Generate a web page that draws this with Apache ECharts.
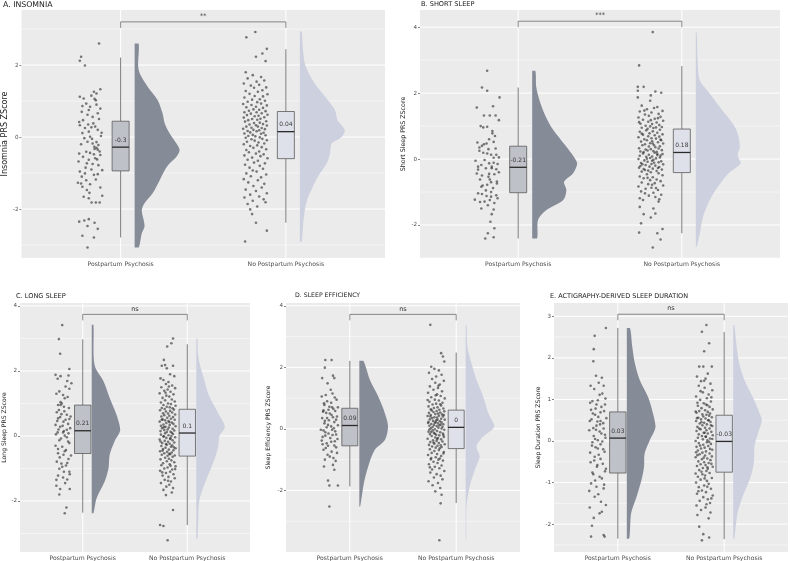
<!DOCTYPE html>
<html>
<head>
<meta charset="utf-8">
<script src="https://cdn.jsdelivr.net/npm/echarts@6/dist/echarts.min.js"></script>
<style>
html,body{margin:0;padding:0;background:#fff;}
#chart{width:790px;height:561px;}
</style>
</head>
<body>
<div id="chart"></div>
<script>
// categories / labels
var categories = ['Postpartum Psychosis', 'No Postpartum Psychosis'];
var panelTitles = ['A. INSOMNIA', 'B. SHORT SLEEP', 'C. LONG SLEEP', 'D. SLEEP EFFICIENCY', 'E. ACTIGRAPHY-DERIVED SLEEP DURATION'];
var yNames = ['Insomnia PRS ZScore', 'Short Sleep PRS ZScore', 'Long Sleep PRS ZScore', 'Sleep Efficiency PRS ZScore', 'Sleep Duration PRS ZScore'];
var yTicks = [[-2,0,2],[-2,0,2,4],[-2,0,2,4],[-2,0,2,4],[-2,-1,0,1,2,3]];
var yMinorTicks = [[-3,-1,1,3],[-3,-1,1,3],[-3,-1,1,3],[-3,-1,1,3],[-2.5,-1.5,-0.5,0.5,1.5,2.5]];
var yRanges = [[-3.36,3.53],[-3.0,4.52],[-3.57,4.09],[-4.0,4.09],[-2.67,3.32]];
var sigLabels = ['**', '***', 'ns', 'ns', 'ns'];
var sigHeight = [3.2, 4.18, 3.74, 3.72, 3.05];
var meanLabels = [[-0.3,0.04],[-0.21,0.18],[0.21,0.1],[0.09,0],[0.03,-0.03]];

// box stats: [lower whisker, q1, median, q3, upper whisker]
var boxStats = [
  [[-2.79,-0.94,-0.28,0.44,2.21],[-2.38,-0.6,0.15,0.71,2.44]],
  [[-2.41,-1.02,-0.25,0.39,2.17],[-2.25,-0.41,0.2,0.91,2.82]],
  [[-2.36,-0.54,0.16,0.95,2.97],[-2.74,-0.62,0.09,0.82,2.82]],
  [[-1.87,-0.55,0.11,0.67,2.21],[-2.41,-0.64,0.05,0.61,2.48]],
  [[-2.35,-0.77,0.07,0.7,2.72],[-2.36,-0.75,-0.01,0.62,2.62]]
];

// half violin density profiles: [value, relative density]
var violinA_pp = [[2.6,.09],[1.86,.09],[1.4,.29],[1.03,.51],[.66,.62],[.38,.67],[.1,.78],[-.18,.93],[-.36,1],[-.55,.93],[-.73,.78],[-.92,.67],[-1.19,.56],[-1.56,.4],[-1.84,.22],[-2.03,.16],[-2.3,.2],[-2.49,.22],[-2.67,.16],[-3.07,.09]];
var violinA_no = [[2.93,.04],[2.42,.07],[1.96,.13],[1.49,.33],[1.03,.62],[.75,.78],[.47,.84],[.19,1],[0,.93],[-.18,.71],[-.45,.67],[-.73,.6],[-1.1,.4],[-1.38,.29],[-1.75,.16],[-2.21,.09],[-2.91,.04]];
var violinB_pp = [[2.68,.07],[2.19,.09],[1.79,.16],[1.38,.27],[.98,.42],[.58,.64],[.27,.82],[-.13,1],[-.43,.91],[-.69,.71],[-.94,.76],[-1.24,.69],[-1.55,.31],[-1.85,.13],[-2.41,.11]];
var violinB_no = [[3.84,.02],[3.0,.04],[2.39,.09],[1.99,.31],[1.58,.53],[1.08,.82],[.78,.93],[.37,.98],[.12,.93],[-.13,1],[-.43,.73],[-.84,.49],[-1.24,.31],[-1.75,.16],[-2.25,.09],[-2.66,.02]];
var violinC_pp = [[3.42,.06],[2.18,.1],[1.67,.42],[1.17,.63],[.65,.87],[.18,1],[-.17,.8],[-.58,.63],[-.99,.59],[-1.41,.45],[-1.92,.17],[-2.38,.06]];
var violinC_no = [[3.0,.04],[2.44,.07],[1.72,.28],[1.21,.46],[.7,.77],[.29,1],[-.02,.81],[-.33,.77],[-.74,.63],[-1.35,.35],[-1.97,.11],[-2.58,.07],[-3.18,.04]];
var violinD_pp = [[2.21,.14],[1.59,.37],[1.05,.66],[.51,.89],[.08,1],[-.36,.89],[-.68,.54],[-1.22,.31],[-1.76,.16],[-2.52,.03]];
var violinD_no = [[3.38,.03],[2.67,.06],[2.13,.2],[1.59,.38],[1.05,.61],[.51,.79],[.08,1],[-.25,.61],[-.57,.38],[-.9,.49],[-1.33,.32],[-1.87,.14],[-2.52,.03],[-3.6,.02]];
var violinE_pp = [[2.72,.11],[2.27,.19],[1.87,.28],[1.47,.45],[1.06,.74],[.67,.91],[.34,1],[.02,.8],[-.3,.62],[-.62,.6],[-.94,.51],[-1.34,.34],[-1.74,.15],[-2.14,.11],[-2.35,.08]];
var violinE_no = [[2.79,.04],[2.27,.12],[1.87,.21],[1.47,.39],[1.06,.68],[.67,.92],[.5,1],[.18,.86],[-.14,.74],[-.54,.72],[-.94,.57],[-1.34,.33],[-1.74,.15],[-2.35,.04]];

// jittered points: [jitter (-1..1), z score]
var pointsA_pp = [[.7,2.6],[-.7,2.23],[-.8,2.12],[-.4,1.99],[.8,1.33],[.3,1.26],[.5,1.21],[-.8,1.12],[.1,1.15],[-.5,1.07],[.35,1.06],[.45,1.02],[-.3,.93],[-.6,.86],[0,.84],[.5,.9],[.8,.79],[-.1,.75],[-.65,.7],[.6,.66],[-.2,.62],[.2,.56],[.7,.5],[-.55,.47],[-.85,.42],[.25,.38],[-.15,.35],[-.8,.33],[.4,.29],[.1,.27],[-.4,.25],[.6,.2],[-.1,.15],[.9,.12],[-.6,.11],[.85,.03],[0,.01],[-.45,-.03],[.15,-.05],[-.2,-.13],[.5,-.14],[-.7,-.2],[.2,-.18],[.65,-.22],[.33,-.27],[.5,-.3],[.35,-.33],[.6,-.35],[.75,-.4],[-.3,-.41],[0,-.44],[-.85,-.46],[.3,-.48],[.8,-.5],[-.55,-.55],[.4,-.59],[.55,-.62],[-.1,-.63],[-.9,-.68],[-.25,-.73],[.2,-.75],[.65,-.78],[-.35,-.85],[.1,-.9],[.95,-.92],[-.8,-.96],[-.4,-1.01],[.6,-1.03],[.3,-1.05],[-.65,-1.1],[.45,-1.18],[-.3,-1.2],[-.95,-1.27],[-.7,-1.29],[0,-1.31],[-.6,-1.38],[.8,-1.4],[-.25,-1.47],[-.05,-1.55],[.95,-1.63],[-.5,-1.66],[-.1,-1.7],[.12,-1.82],[.45,-1.82],[.75,-1.82],[-.45,-2.32],[-.85,-2.35],[-.1,-2.28],[.35,-2.38],[-.2,-2.47],[.6,-2.55],[-.6,-2.74],[.3,-2.79],[-.2,-3.07]];
var pointsA_no = [[0,2.92],[-.7,2.77],[.9,2.45],[.55,2.32],[.05,2.23],[.8,2.11],[-.75,1.8],[-.2,1.72],[.45,1.67],[-.6,1.63],[.7,1.57],[.1,1.54],[-.9,1.49],[.3,1.45],[-.35,1.43],[.85,1.38],[-.1,1.37],[.55,1.3],[-.75,1.28],[.2,1.26],[-.45,1.2],[.95,1.19],[-.05,1.14],[.6,1.13],[-.85,1.1],[.35,1.05],[-.25,1.04],[.75,1.01],[-.6,.98],[.15,.97],[.45,.93],[-.95,.92],[-.3,.89],[.9,.88],[.05,.84],[-.7,.83],[.6,.81],[-.15,.77],[.3,.76],[-.5,.73],[.8,.72],[-.85,.69],[.1,.69],[.5,.66],[-.35,.65],[.95,.62],[-.65,.61],[.25,.59],[-.05,.58],[.7,.55],[-.9,.54],[.4,.51],[-.25,.5],[.15,.48],[-.55,.47],[.85,.44],[-.8,.43],[.35,.4],[-.1,.39],[.6,.36],[-.45,.35],[.05,.33],[.9,.32],[-.7,.29],[.2,.29],[-.3,.26],[.5,.25],[-.95,.23],[.75,.22],[-.15,.2],[.3,.19],[-.6,.17],[.1,.16],[-.4,.13],[.65,.12],[-.85,.1],[.45,.09],[-.2,.06],[.8,.05],[-.55,.03],[0,.02],[.35,-.01],[-.75,-.02],[.55,-.05],[-.3,-.06],[.9,-.09],[-.05,-.1],[-.65,-.13],[.25,-.15],[.7,-.18],[-.9,-.2],[.15,-.23],[-.4,-.25],[.5,-.28],[-.15,-.3],[.85,-.34],[-.7,-.36],[.3,-.4],[-.5,-.42],[.05,-.46],[.65,-.48],[-.85,-.51],[.4,-.53],[-.25,-.57],[.95,-.59],[-.6,-.63],[.2,-.66],[-.1,-.71],[.75,-.73],[-.8,-.77],[.35,-.8],[-.45,-.85],[.6,-.88],[-.2,-.93],[.1,-.96],[-.7,-1.01],[.85,-1.04],[-.35,-1.09],[.45,-1.12],[-.9,-1.17],[.2,-1.2],[-.55,-1.26],[.7,-1.3],[-.15,-1.36],[.5,-1.4],[-.75,-1.46],[.05,-1.5],[.9,-1.56],[-.4,-1.6],[.3,-1.65],[-.85,-1.68],[.65,-1.73],[-.2,-1.77],[.8,-1.81],[-.6,-1.86],[.15,-1.93],[-.4,-2.01],[-.25,-2.14],[.05,-2.38],[.9,-2.6],[-.8,-2.9]];
var pointsB_pp = [[0,2.68],[-.4,2.17],[0,2.07],[.95,1.87],[-.8,1.56],[.45,1.6],[-.25,1.32],[.2,1.32],[.65,1.32],[.9,1.18],[-.5,1],[-.3,.96],[0,.98],[.4,.85],[.4,.78],[.6,.7],[.15,.6],[-.75,.5],[.5,.52],[-.05,.47],[-.25,.45],[-.4,.4],[-.6,.35],[.65,.32],[.1,.3],[-.6,.25],[-.3,.19],[0,.17],[.3,.13],[.7,.13],[.9,.05],[.5,.04],[-.9,-.05],[-.2,-.03],[.15,-.13],[.5,-.11],[.8,-.15],[-.45,-.18],[-.7,-.23],[-.1,-.28],[.35,-.23],[.35,-.28],[.7,-.31],[-.7,-.32],[.9,-.4],[-.8,-.44],[.15,-.45],[-.4,-.5],[.1,-.54],[.55,-.46],[-.55,-.62],[.2,-.62],[.3,-.7],[.75,-.68],[.75,-.74],[0,-.78],[-.35,-.8],[-.45,-.84],[.45,-.88],[-.1,-.95],[.3,-1],[-.7,-1.04],[-.4,-1.06],[-.05,-1.12],[.3,-1.14],[.7,-1.1],[-.95,-1.23],[-.55,-1.3],[-.2,-1.29],[.2,-1.24],[.8,-1.19],[.55,-1.33],[.05,-1.4],[-.45,-1.5],[.5,-1.53],[.35,-1.67],[.25,-1.9],[.55,-2.1],[.05,-2.25],[-.15,-2.41],[.5,-2.37]];
var pointsB_no = [[.15,3.85],[-.9,2.84],[-1,2.19],[-.55,2.19],[-1,2.07],[-1,1.87],[.35,2.05],[.8,2.01],[0,1.93],[-.05,1.77],[.5,1.58],[-.7,1.62],[.25,1.55],[-.3,1.51],[.9,1.46],[-.85,1.44],[.05,1.41],[.6,1.37],[-.45,1.35],[-.15,1.31],[.75,1.28],[-.95,1.26],[.3,1.22],[-.6,1.19],[.95,1.16],[-.2,1.13],[.45,1.11],[-.8,1.07],[.1,1.06],[.65,1.03],[-.4,1.01],[-.05,.99],[.85,.97],[-.7,.95],[.2,.94],[-.25,.92],[.55,1.24],[-.5,1.47],[.4,.96],[-.9,1.12],[0,1.18],[.7,.89],[-.35,.87],[.15,.84],[-.85,.83],[.5,.8],[-.1,.78],[.9,.75],[-.6,.74],[.3,.72],[-.2,.69],[.65,.68],[-.95,.66],[.05,.63],[.4,.62],[-.5,.6],[.8,.57],[-.3,.57],[.1,.54],[-.75,.53],[.55,.51],[-.05,.48],[.95,.47],[-.45,.45],[.25,.42],[-.65,.42],[.7,.39],[-.15,.38],[.35,.36],[-.9,.33],[.6,.32],[0,.3],[-.4,.29],[.85,.27],[-.25,.26],[.2,.24],[-.8,.23],[.45,.22],[-.55,.21],[.75,.59],[-.7,.77],[.15,.47],[.3,.19],[-.6,.17],[.9,.15],[-.15,.13],[.5,.12],[-.85,.1],[.1,.08],[-.35,.07],[.7,.05],[-.05,.03],[.4,.02],[-.95,0],[.2,-.02],[-.5,-.04],[.8,-.07],[-.25,-.08],[.6,-.1],[-.75,-.12],[.05,-.15],[.95,-.16],[-.4,-.18],[.35,-.2],[-.1,-.23],[.65,-.24],[-.9,-.26],[.15,-.29],[-.55,-.3],[.85,-.32],[-.2,-.35],[.45,-.36],[-.7,-.38],[0,-.4],[.25,-.11],[-.3,.01],[.55,-.27],[-.8,-.21],[.75,.11],[-.45,-.33],[.1,-.05],[.5,.16],[-.65,-.16],[.6,-.43],[-.3,-.46],[.9,-.49],[-.85,-.53],[.15,-.55],[-.55,-.58],[.45,-.62],[-.05,-.64],[.75,-.67],[-.7,-.71],[.3,-.73],[-.2,-.76],[.95,-.8],[-.95,-.83],[.05,-.87],[-.4,-.9],[.55,-.94],[-.75,-.98],[.2,-1.02],[-.45,-1.04],[.8,-1.08],[-.15,-1.11],[.35,-1.15],[-.85,-1.19],[.65,-1.22],[-.6,-1.24],[.6,-1.29],[-.85,-1.45],[.2,-1.5],[-.55,-1.67],[0,-1.77],[.35,-1.65],[-.75,-1.95],[-.9,-2.23],[.5,-2.25],[.9,-2.12],[.75,-2.44],[.15,-2.68],[.1,-.78],[-.25,-.57],[.4,-.88]];
var pointsC_pp = [[-.1,3.41],[-.5,2.98],[-.35,2.53],[.75,2.06],[-.9,1.88],[-.3,1.84],[.65,1.86],[-.65,1.76],[.5,1.69],[1,1.62],[.75,1.45],[-.45,1.37],[0,1.26],[.2,1.16],[-.3,1.04],[-.6,.95],[.1,.9],[-.75,.73],[-.2,.67],[.45,.65],[-.6,.54],[.75,.52],[.05,.44],[-.9,.34],[-.35,.28],[.45,.19],[-.65,.11],[0,.11],[.65,.08],[.2,.01],[-.45,-.13],[.6,-.17],[-.9,-.3],[-.1,-.33],[.35,-.43],[-.6,-.53],[.05,-.58],[.65,-.71],[-.75,-.79],[-.2,-.85],[.35,-.91],[-.45,-1.01],[.1,-1.1],[.75,-1.1],[-.6,-1.22],[0,-1.28],[.5,-1.34],[-.8,-1.53],[-.35,-1.63],[.8,-1.63],[-.45,-1.8],[.4,-2.2],[.2,-2.38],[.3,1.52],[-.8,1.3],[.55,1.2],[-.15,1.0],[.7,.86],[-.5,.8],[.15,.76],[.9,.6],[-.35,.58],[.3,.5],[-.7,.46],[.6,.37],[-.05,.31],[.85,.24],[-.55,.2],[.1,.15],[-.85,.05],[.45,-.04],[-.25,-.08],[.75,-.22],[-.6,-.4],[.2,-.47],[.95,-.6],[-.4,-.66],[.5,-.83],[-.1,-.95],[.8,-1.18],[-.8,-1.35],[.25,-1.45],[-.3,.95]];
var pointsC_no = [[.65,3.0],[.45,2.85],[-.05,2.75],[-.45,2.34],[-.3,2.18],[-.7,2.16],[.65,2.16],[-.1,2.08],[-.85,1.77],[.3,1.9],[.8,1.84],[-.5,1.72],[.1,1.66],[-.2,1.6],[.55,1.55],[-.75,1.5],[.9,1.47],[0,1.43],[-.4,1.39],[.35,1.36],[-.95,1.31],[.7,1.28],[-.15,1.24],[.2,1.21],[-.6,1.17],[.5,1.12],[-.3,1.1],[.85,1.06],[-.8,1.03],[.05,1.0],[.4,.98],[-.5,.95],[.95,.93],[-.1,.9],[.25,.88],[-.7,.86],[.6,.85],[-.35,.83],[.15,1.52],[-.25,1.33],[.75,.81],[-.9,.79],[.3,.77],[-.2,.75],[.55,.72],[-.55,.7],[.05,.69],[.9,.66],[-.4,.64],[.2,.62],[-.75,.6],[.65,.58],[-.05,.56],[.4,.53],[-.6,.51],[.85,.5],[-.3,.48],[.1,.46],[-.95,.44],[.5,.41],[-.15,.4],[.7,.37],[-.5,.35],[.25,.34],[-.8,.31],[.95,.3],[-.25,.28],[.15,.26],[-.65,.24],[.6,.22],[0,.2],[-.4,.18],[.8,.17],[-.85,.15],[.35,.13],[-.1,.12],[.5,.1],[-.7,.5],[.2,.43],[-.45,.27],[-.3,.08],[.65,.06],[-.8,.04],[.1,.02],[.45,0],[-.5,-.02],[.9,-.04],[-.15,-.06],[.3,-.09],[-.95,-.11],[.6,-.13],[-.35,-.15],[.05,-.18],[.8,-.2],[-.65,-.22],[.25,-.24],[-.1,-.27],[.55,-.29],[-.75,-.31],[.4,-.33],[-.25,-.36],[.95,-.38],[-.55,-.4],[.15,-.42],[.7,-.44],[-.9,-.47],[-.05,-.49],[.5,-.51],[-.4,-.53],[.3,-.56],[-.7,-.58],[.85,-.6],[0,-.61],[-.2,-.25],[.35,-.07],[-.6,-.45],[.75,-.35],[-.85,-.17],[.2,-.55],[-.45,-.01],[.6,-.64],[-.3,-.67],[.15,-.7],[-.85,-.72],[.45,-.75],[-.1,-.78],[.8,-.81],[-.55,-.84],[.25,-.87],[-.75,-.9],[.95,-.93],[0,-.97],[-.4,-1.0],[.55,-1.03],[-.9,-1.07],[.3,-1.1],[-.2,-1.14],[.7,-1.18],[-.6,-1.22],[.1,-1.26],[.85,-1.3],[-.35,-1.35],[.4,-1.4],[-.8,-1.45],[.2,-1.5],[-.15,-1.56],[.65,-1.6],[-.5,-1.66],[.5,-1.74],[-.2,-1.82],[.65,-2.28],[-.9,-2.74],[-.5,-2.77],[0,-3.21],[.35,-.92],[-.65,-1.12],[.05,-1.38],[.9,-1.02]];
var pointsD_pp = [[-.5,2.24],[.2,2.24],[-.55,1.99],[.35,1.73],[.5,1.65],[-.85,1.65],[-.25,1.48],[.1,1.27],[-.45,1.1],[.55,1.02],[-.65,.83],[-.05,.72],[.4,.65],[-.75,.56],[.2,.45],[.8,.4],[-.55,.26],[.5,.22],[-.2,.13],[-1,-.03],[.25,-.03],[-.5,-.11],[.7,-.18],[-.8,-.26],[.05,-.3],[-.35,-.47],[.5,-.54],[-.7,-.68],[.2,-.74],[-.25,-.84],[.65,-1.04],[.35,-1.17],[-.65,-1.22],[.5,-1.33],[-.2,-1.68],[-.05,-1.84],[.9,-1.84],[-.05,-2.52],[.3,1.15],[-.9,1.05],[.75,.95],[-.3,.9],[.15,.85],[-.6,.78],[.9,.7],[-.15,.62],[.6,.58],[-.4,.52],[0,.5],[.35,.38],[-.85,.35],[.7,.3],[-.1,.28],[-.6,.18],[.9,.12],[.15,.08],[-.35,.05],[.45,.02],[-.7,-.05],[.6,-.08],[-.15,-.15],[.3,-.2],[-.5,-.22],[.85,-.33],[-.9,-.38],[.15,-.42],[-.2,-.55],[.7,-.6],[-.45,-.62],[0,-.9],[.4,-.95],[-.55,-1.0],[.8,-.78],[-.8,-.5],[.25,.7],[-.3,.35],[.55,-.4],[-.7,.6]];
var pointsD_no = [[-.65,3.38],[.55,2.46],[.75,2.35],[.9,2.19],[-.55,2.02],[-.2,1.95],[.3,1.9],[-.8,1.82],[.6,1.76],[0,1.7],[-.45,1.62],[.85,1.56],[-.1,1.5],[.4,1.44],[-.7,1.38],[.2,1.33],[-.3,1.27],[.65,1.22],[-.9,1.17],[.1,1.12],[.5,1.07],[-.55,1.03],[.95,.99],[-.15,.95],[.3,.92],[-.75,.88],[.7,.85],[0,.82],[-.4,.79],[.55,.76],[-.85,.73],[.15,.7],[-.25,.68],[.8,.66],[-.6,.64],[.35,.62],[-.05,1.09],[.45,.8],[-.95,.94],[.25,1.4],[-.5,.6],[.05,.58],[.9,.57],[-.3,.55],[.45,.53],[-.8,.52],[.2,.5],[-.1,.48],[.65,.47],[-.6,.45],[.3,.43],[-.95,.42],[.75,.4],[-.2,.38],[.1,.37],[-.45,.35],[.55,.33],[-.7,.31],[.95,.3],[0,.28],[-.35,.26],[.4,.25],[-.85,.23],[.6,.21],[-.15,.2],[.2,.18],[-.55,.16],[.8,.15],[-.25,.13],[.35,.12],[-.75,.1],[.05,.09],[.7,.07],[-.4,.06],[.15,.3],[-.65,.4],[.5,.14],[-.05,.22],[.85,.45],[-.9,.19],[.25,.04],[-.6,.02],[.6,.01],[-.15,-.01],[.9,-.03],[-.4,-.05],[.1,-.07],[-.85,-.09],[.45,-.11],[-.25,-.13],[.75,-.15],[-.7,-.17],[0,-.19],[.35,-.21],[-.5,-.23],[.85,-.26],[-.1,-.28],[.2,-.3],[-.95,-.32],[.55,-.34],[-.35,-.37],[.05,-.39],[.7,-.41],[-.65,-.43],[.3,-.46],[-.2,-.48],[.95,-.5],[-.8,-.52],[.15,-.55],[-.45,-.57],[.6,-.59],[-.05,-.61],[.4,-.63],[-.55,-.1],[.8,-.2],[-.3,-.44],[.1,-.33],[-.75,-.02],[.5,-.53],[-.15,-.16],[-.7,-.66],[.3,-.69],[-.2,-.72],[.85,-.75],[-.5,-.78],[.1,-.82],[-.9,-.85],[.55,-.88],[-.05,-.92],[.4,-.96],[-.6,-.99],[.75,-1.03],[-.3,-1.07],[.15,-1.11],[-.8,-1.15],[.6,-1.19],[-.15,-1.23],[.35,-1.28],[-.45,-1.32],[.9,-1.37],[-.65,-1.42],[.05,-1.47],[.5,-1.52],[-.25,-1.58],[.7,-1.64],[-.85,-1.7],[.2,-1.76],[-.4,-1.83],[.45,-1.92],[-.1,-2.03],[.6,-2.14],[.5,-2.42],[.35,-3.62],[-.55,-.95],[.25,-1.0],[-.7,-1.25],[.8,-.8]];
var pointsE_pp = [[.9,2.72],[-.35,2.53],[-.45,2.21],[-.5,1.92],[-.2,1.57],[.45,1.52],[-.8,1.33],[.65,1.33],[.2,1.11],[.5,1.14],[-.6,.96],[-.15,.88],[.8,.88],[-.75,.75],[.3,.69],[-.3,.63],[-.9,.48],[-.05,.47],[.6,.43],[-.5,.31],[.2,.23],[.8,.15],[-.3,.05],[.5,-.01],[-.65,-.11],[0,-.18],[.75,-.26],[-.35,-.38],[.3,-.43],[-.8,-.51],[-.05,-.58],[.9,-.67],[-.5,-.8],[.45,-.9],[-.75,-1.02],[-.15,-1.1],[.65,-1.14],[-.35,-1.34],[.35,-1.46],[-.9,-1.6],[.9,-1.54],[.2,-1.74],[-.65,-2.04],[-.75,-2.3],[.75,-2.3],[.65,-2.26],[.1,1.4],[-.4,1.25],[.85,1.02],[0,.98],[-.85,.92],[.4,.82],[-.25,.78],[.7,.72],[-.55,.66],[.05,.58],[.95,.55],[-.7,.52],[.25,.4],[-.15,.37],[.65,.3],[-.95,.26],[.4,.18],[-.45,.12],[.85,.08],[0,.02],[-.6,-.03],[.3,-.08],[-.25,-.15],[.6,-.2],[-.85,-.28],[.1,-.33],[-.4,-.47],[.55,-.55],[-.1,-.62],[.8,-.73],[-.6,-.76],[.2,-.86],[-.3,-.95],[.7,-1.05],[-.95,-1.2],[.05,-1.28],[.45,-1.7],[-.45,-1.85],[.3,.48],[-.2,.27]];
var pointsE_no = [[.25,2.79],[-.25,2.63],[.55,2.35],[0,2.16],[-.55,1.79],[-.1,1.79],[.85,1.79],[.4,1.62],[-.8,1.55],[.15,1.5],[-.35,1.44],[.7,1.38],[-.6,1.33],[.05,1.28],[.9,1.22],[-.15,1.17],[.5,1.12],[-.9,1.07],[.3,1.03],[-.45,.99],[.75,.95],[-.05,.91],[.2,.88],[-.7,.85],[.6,.82],[-.3,.79],[.95,.76],[.1,.74],[-.55,.72],[.4,.7],[-.85,.68],[.65,.66],[-.2,.64],[.25,.63],[-.4,1.2],[.8,1.05],[0,1.45],[-.75,.92],[.35,.86],[-.95,.71],[.55,.61],[-.1,.59],[.85,.57],[-.65,.56],[.15,.54],[-.35,.52],[.45,.5],[-.9,.48],[.7,.46],[0,.44],[-.5,.42],[.3,.4],[-.2,.38],[.9,.36],[-.75,.34],[.1,.32],[.6,.3],[-.4,.28],[.25,.26],[-.85,.24],[.8,.22],[-.05,.2],[.4,.18],[-.6,.16],[.95,.14],[-.25,.12],[.2,.1],[-.7,.08],[.65,.06],[-.15,.04],[.35,.02],[-.95,0],[.5,.5],[-.3,.45],[.05,.2],[.75,.38],[-.55,.3],[.15,.11],[-.8,.55],[.9,.05],[.3,-.03],[-.6,-.05],[.75,-.07],[-.1,-.09],[.45,-.12],[-.85,-.14],[.05,-.16],[-.35,-.18],[.9,-.21],[-.7,-.23],[.2,-.25],[-.2,-.28],[.6,-.3],[-.5,-.32],[.1,-.35],[.85,-.37],[-.95,-.39],[.35,-.42],[-.25,-.44],[.7,-.46],[-.65,-.49],[0,-.51],[.5,-.53],[-.4,-.56],[.15,-.58],[-.8,-.6],[.95,-.62],[-.15,-.65],[.4,-.67],[-.55,-.7],[.25,-.72],[-.3,-.74],[.65,-.19],[-.75,-.34],[.8,-.55],[-.05,-.4],[.55,-.02],[-.9,-.27],[.35,-.63],[-.45,-.11],[.6,-.77],[-.2,-.8],[.1,-.83],[-.7,-.86],[.85,-.89],[-.4,-.93],[.3,-.96],[-.9,-1.0],[.5,-1.03],[0,-1.07],[-.6,-1.11],[.75,-1.15],[-.25,-1.19],[.2,-1.23],[-.8,-1.27],[.95,-1.31],[-.1,-1.35],[.4,-1.4],[-.5,-1.44],[.65,-1.49],[-.85,-1.55],[.15,-1.6],[-.35,-1.66],[.7,-1.72],[-.75,-1.78],[.5,-1.86],[-.55,-2.06],[-.1,-2.24],[.55,-2.32],[-.25,-2.39],[.05,-.9],[-.65,-1.21],[.35,-1.1],[.8,-1.38],[-.95,-.78],[.25,-1.52]];

var violins = [[violinA_pp, violinA_no],[violinB_pp, violinB_no],[violinC_pp, violinC_no],[violinD_pp, violinD_no],[violinE_pp, violinE_no]];
var points = [[pointsA_pp, pointsA_no],[pointsB_pp, pointsB_no],[pointsC_pp, pointsC_no],[pointsD_pp, pointsD_no],[pointsE_pp, pointsE_no]];

// layout (px)
var panelRects = [[16,10,369,248],[420,10,360,248],[16,303,234,249],[286,303,234,249],[554,303,234,249]];
var titleTop = [1,1,292.5,292.5,292.5];
var titleLeft = [3,421,16,295,550];
var titleFont = [7.8,6.6,6.6,6.2,6.5];
var nameFont = [8,6.3,6.1,6,6.1];
var nameGap = [7,9,8,9.5,8];
var jitterShift = [-31,-31,-20,-20,-20];
var jitterHalf = [13,13,8.5,9,9];
var boxHalf = [8.5,8.5,8.2,8,8.2];
var violinShift = [14,14,9,9.5,9];
var violinWidth = [45,45,28.5,28.7,28.7];

var FONT = 'DejaVu Sans';
var violinColors = ['#868B98', '#CDD1DF'];
var boxColors = ['#BFC1C8', '#DFE1EA'];
var lineGray = '#5a5a5a';

var chart = echarts.init(document.getElementById('chart'), null, {renderer: 'canvas'});

var grids = [], xAxes = [], yAxes = [], series = [], graphics = [];

for (var p = 0; p < 5; ++p) {
  var r = panelRects[p];
  grids.push({left: r[0], top: r[1], width: r[2], height: r[3], show: true,
    backgroundColor: '#EBEBEB', borderWidth: 0, containLabel: false});

  xAxes.push({type: 'value', gridIndex: p, min: 0.4, max: 2.6,
    axisLine: {show: false}, splitLine: {show: false},
    axisTick: {show: true, length: 2, customValues: [1, 2], lineStyle: {color: '#333', width: 0.6}},
    axisLabel: {show: true, customValues: [1, 2], margin: 3, fontSize: 6.1, color: '#4D4D4D', fontFamily: FONT,
      formatter: function (v) { return categories[Math.round(v) - 1]; }}
  });

  yAxes.push({type: 'value', gridIndex: p, min: yRanges[p][0], max: yRanges[p][1],
    axisLine: {show: false}, splitLine: {show: false},
    axisTick: {show: true, length: 2, customValues: yTicks[p], lineStyle: {color: '#333', width: 0.6}},
    axisLabel: {show: true, customValues: yTicks[p], margin: 3, fontSize: 5.6, color: '#4D4D4D', fontFamily: FONT},
    name: yNames[p], nameLocation: 'middle', nameRotate: 90, nameGap: nameGap[p] + 5,
    nameTextStyle: {fontSize: nameFont[p], color: '#1A1A1A', fontFamily: FONT}
  });

  // panel grid lines (major, minor, category)
  var gridData = [];
  yTicks[p].forEach(function (v) { gridData.push([0, v]); });
  yMinorTicks[p].forEach(function (v) { gridData.push([1, v]); });
  gridData.push([2, 1]); gridData.push([2, 2]);
  series.push({type: 'custom', xAxisIndex: p, yAxisIndex: p, silent: true, z: 1,
    data: gridData,
    renderItem: function (params, api) {
      var cs = params.coordSys;
      var kind = api.value(0), v = api.value(1);
      if (kind === 2) {
        var x = api.coord([v, 0])[0];
        return {type: 'line', shape: {x1: x, y1: cs.y, x2: x, y2: cs.y + cs.height},
          style: {stroke: '#FFFFFF', lineWidth: 1}};
      }
      var y = api.coord([1, v])[1];
      return {type: 'line', shape: {x1: cs.x, y1: y, x2: cs.x + cs.width, y2: y},
        style: {stroke: '#FFFFFF', lineWidth: kind === 0 ? 1 : 0.5}};
    }
  });

  (function (p) {
    // half violins
    series.push({type: 'custom', xAxisIndex: p, yAxisIndex: p, silent: true, z: 2,
      data: [[1, 0], [2, 0]],
      renderItem: function (params, api) {
        var g = params.dataIndex;
        var prof = violins[p][g];
        var cat = api.value(0);
        var x0 = api.coord([cat, 0])[0] + violinShift[p];
        var pts = [];
        for (var i = 0; i < prof.length; ++i) {
          var y = api.coord([cat, prof[i][0]])[1];
          pts.push([x0 + prof[i][1] * violinWidth[p], y]);
        }
        var yBot = api.coord([cat, prof[prof.length - 1][0]])[1];
        var yTop = api.coord([cat, prof[0][0]])[1];
        pts.push([x0, yBot]);
        pts.push([x0, yTop]);
        return {type: 'polygon',
          shape: {points: pts, smooth: 0.3, smoothConstraint: [[x0, yTop], [x0 + violinWidth[p], yBot]]},
          style: {fill: violinColors[g], stroke: null}};
      }
    });

    // jittered points
    var unit = 2.2 / panelRects[p][2];
    for (var g = 0; g < 2; ++g) {
      var data = points[p][g].map(function (pt) {
        return [g + 1 + (jitterShift[p] + pt[0] * jitterHalf[p]) * unit, pt[1]];
      });
      series.push({type: 'scatter', xAxisIndex: p, yAxisIndex: p, z: 3, silent: true,
        symbol: 'circle', symbolSize: 2.6, data: data,
        itemStyle: {color: 'rgba(30,30,30,0.72)'}});
    }

    // boxes
    series.push({type: 'custom', xAxisIndex: p, yAxisIndex: p, silent: true, z: 4,
      data: [[1, 0], [2, 0]],
      renderItem: function (params, api) {
        var g = params.dataIndex;
        var s = boxStats[p][g];
        var cat = api.value(0);
        var cx = api.coord([cat, 0])[0];
        var yy = s.map(function (v) { return api.coord([cat, v])[1]; });
        var bw = boxHalf[p];
        return {type: 'group', children: [
          {type: 'line', shape: {x1: cx, y1: yy[4], x2: cx, y2: yy[3]}, style: {stroke: lineGray, lineWidth: 0.8}},
          {type: 'line', shape: {x1: cx, y1: yy[1], x2: cx, y2: yy[0]}, style: {stroke: lineGray, lineWidth: 0.8}},
          {type: 'rect', shape: {x: cx - bw, y: yy[3], width: 2 * bw, height: yy[1] - yy[3]},
            style: {fill: boxColors[g], stroke: lineGray, lineWidth: 0.8}},
          {type: 'line', shape: {x1: cx - bw, y1: yy[2], x2: cx + bw, y2: yy[2]}, style: {stroke: '#2A2A2A', lineWidth: 1.3}},
          {type: 'text', x: cx, y: yy[2] - 7,
            style: {text: String(meanLabels[p][g]), align: 'center', verticalAlign: 'middle',
              textAlign: 'center', textVerticalAlign: 'middle',
              fontSize: 6, fontFamily: FONT, fill: '#3A3A3A'}}
        ]};
      }
    });

    // significance bracket
    series.push({type: 'custom', xAxisIndex: p, yAxisIndex: p, silent: true, z: 5,
      data: [[1.5, sigHeight[p]]],
      renderItem: function (params, api) {
        var h = api.value(1);
        var a = api.coord([1, h]), b = api.coord([2, h]);
        var tip = 6;
        return {type: 'group', children: [
          {type: 'polyline', shape: {points: [[a[0], a[1] + tip], [a[0], a[1]], [b[0], b[1]], [b[0], b[1] + tip]]},
            style: {stroke: lineGray, lineWidth: 0.7, fill: null}},
          {type: 'text', x: (a[0] + b[0]) / 2, y: a[1] - 5.5,
            style: {text: sigLabels[p], align: 'center', verticalAlign: 'middle',
              textAlign: 'center', textVerticalAlign: 'middle',
              fontSize: 6.5, fontFamily: FONT, fill: '#333'}}
        ]};
      }
    });
  })(p);

  graphics.push({type: 'text', left: titleLeft[p], top: titleTop[p],
    style: {text: panelTitles[p], fontSize: titleFont[p], fontFamily: FONT, fill: '#1A1A1A'}});
}

chart.setOption({
  animation: false,
  backgroundColor: '#FFFFFF',
  grid: grids,
  xAxis: xAxes,
  yAxis: yAxes,
  series: series,
  graphic: graphics
});
</script>
</body>
</html>
